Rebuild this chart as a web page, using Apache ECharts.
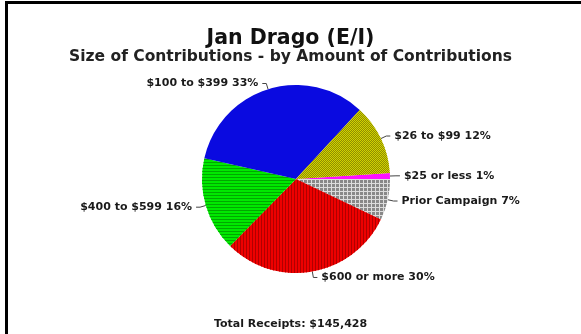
<!DOCTYPE html>
<html>
<head>
<meta charset="utf-8">
<script src="https://cdn.jsdelivr.net/npm/echarts@6/dist/echarts.min.js"></script>
<style>
html,body{margin:0;padding:0;background:#fff;}
#chart{width:581px;height:334px;}
</style>
</head>
<body>
<div id="chart"></div>
<script>
// Data
var titleText = 'Jan Drago (E/I)';
var subtitleText = 'Size of Contributions - by Amount of Contributions';
var footerText = 'Total Receipts: $145,428';
var categories = ['$25 or less', 'Prior Campaign', '$600 or more', '$400 to $599', '$100 to $399', '$26 to $99'];
var percents = [1, 7, 30, 16, 33, 12];
var colors = ['#ff10ff', '#d8d8d8', '#ee0000', '#00e800', '#0a0ae0', '#d2d200'];

var decals = [
  null,
  {symbol:'rect', symbolSize:1, symbolKeepAspect:false, color:'#888888', backgroundColor:'#dcdcdc', dashArrayX:[3,1], dashArrayY:[3,1]},
  {symbol:'rect', symbolSize:1, symbolKeepAspect:false, color:'#b00000', dashArrayX:[1,2], dashArrayY:[1,0]},
  {symbol:'rect', symbolSize:1, symbolKeepAspect:false, color:'#00a800', dashArrayX:[1,0], dashArrayY:[1,2]},
  null,
  {symbol:'rect', symbolSize:1, symbolKeepAspect:false, color:'#8e8e00', dashArrayX:[[1,1],[0,1,1,0]], dashArrayY:[1,0]}
];

var pieData = categories.map(function(c, i){
  var it = {name:c, value:percents[i], itemStyle:{color:colors[i]}};
  if (decals[i]) it.itemStyle.decal = decals[i];
  return it;
});

var total = percents.reduce(function(a,b){return a+b;}, 0);
var labelFont = {fontFamily:'DejaVu Sans', fontWeight:'bold', fontSize:11, color:'#1a1a1a'};

var chart = echarts.init(document.getElementById('chart'), null, {renderer:'canvas'});
chart.setOption({
  backgroundColor:'#ffffff',
  animation:false,
  title:[
    {text:titleText, left:'center', top:23, textStyle:{fontFamily:'DejaVu Sans', fontWeight:'bold', fontSize:20.5, color:'#111'}},
    {text:subtitleText, left:'center', top:44, textStyle:{fontFamily:'DejaVu Sans', fontWeight:'bold', fontSize:15.5, color:'#222'}},
    {text:footerText, left:'center', top:314, textStyle:labelFont}
  ],
  graphic:[
    {type:'rect', shape:{x:5, y:1, width:3, height:333}, style:{fill:'#000'}},
    {type:'rect', shape:{x:5, y:1, width:576, height:3}, style:{fill:'#000'}}
  ],
  series:[{
    type:'pie',
    center:[296,179],
    radius:94,
    startAngle: percents[0] / total * 360,
    clockwise:true,
    avoidLabelOverlap:false,
    data:pieData,
    itemStyle:{borderWidth:0},
    label:{
      show:true,
      position:'outside',
      formatter:'{b} {c}%',
      distanceToLabelLine:4,
      fontFamily:labelFont.fontFamily, fontWeight:'bold', fontSize:11, color:'#1a1a1a'
    },
    labelLine:{show:true, length:6, length2:4, lineStyle:{color:'#444', width:1}},
    emphasis:{disabled:true}
  }]
});
</script>
</body>
</html>
